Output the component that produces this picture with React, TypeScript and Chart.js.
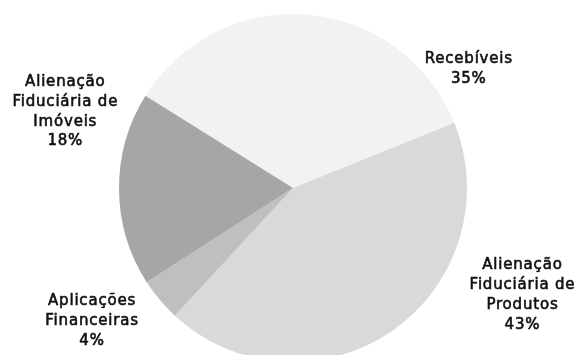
import React, { useEffect, useRef } from "react";
import { Chart, registerables } from "chart.js";

Chart.register(...registerables);

const categories = [
  "Recebíveis",
  "Alienação Fiduciária de Produtos",
  "Aplicações Financeiras",
  "Alienação Fiduciária de Imóveis",
];
const labelLines = [
  ["Recebíveis"],
  ["Alienação", "Fiduciária de", "Produtos"],
  ["Aplicações", "Financeiras"],
  ["Alienação", "Fiduciária de", "Imóveis"],
];
const shares = [35, 43, 4, 18];
const percentLabels = ["35%", "43%", "4%", "18%"];
const colors = ["#f2f2f2", "#d9d9d9", "#bfbfbf", "#a6a6a6"];

// label placement relative to the pie: angle (deg clockwise from top), distance in radii
const labelAngles = [55.9, 115, 236.5, 288.5];
const labelDistances = [1.22, 1.455, 1.385, 1.38];

const FONT = "15px 'DejaVu Sans'";
const LINE_HEIGHT = 19.8;

const labelPlugin = {
  id: "outerLabels",
  afterDraw(chart: any) {
    const meta = chart.getDatasetMeta(0);
    const first = meta.data[0];
    if (!first) return;
    const cx = first.x;
    const cy = first.y;
    const r = first.outerRadius;
    const ctx = chart.ctx;
    ctx.save();
    ctx.font = FONT;
    ctx.fillStyle = "#111111";
    ctx.strokeStyle = "#111111";
    ctx.lineWidth = 0.6;
    ctx.lineJoin = "round";
    ctx.textAlign = "center";
    ctx.textBaseline = "middle";
    try {
      (ctx as any).letterSpacing = "0.8px";
    } catch (e) {}
    labelLines.forEach((lines, i) => {
      const a = (labelAngles[i] * Math.PI) / 180;
      const d = labelDistances[i] * r;
      const x = cx + d * Math.sin(a);
      const y = cy - d * Math.cos(a);
      const all = [...lines, percentLabels[i]];
      const y0 = y - ((all.length - 1) * LINE_HEIGHT) / 2;
      all.forEach((t, k) => {
        ctx.fillText(t, x, y0 + k * LINE_HEIGHT);
        ctx.strokeText(t, x, y0 + k * LINE_HEIGHT);
      });
    });
    ctx.restore();
  },
};

export default function App() {
  const ref = useRef<HTMLCanvasElement | null>(null);
  useEffect(() => {
    if (!ref.current) return;
    const chart = new Chart(ref.current, {
      type: "pie",
      data: {
        labels: categories,
        datasets: [
          {
            data: shares,
            backgroundColor: colors,
            borderWidth: 0,
          },
        ],
      },
      options: {
        animation: false,
        responsive: false,
        rotation: -58,
        layout: { padding: { left: 119, right: 112, top: 14, bottom: 18 } },
        plugins: {
          legend: { display: false },
          tooltip: { enabled: false },
        },
      },
      plugins: [labelPlugin],
    });
    return () => chart.destroy();
  }, []);
  return (
    <div
      style={{
        position: "absolute",
        left: 0,
        top: 0,
        width: 579,
        height: 355,
        overflow: "hidden",
        background: "#ffffff",
      }}
    >
      <canvas ref={ref} width={579} height={380} style={{ display: "block" }} />
    </div>
  );
}
